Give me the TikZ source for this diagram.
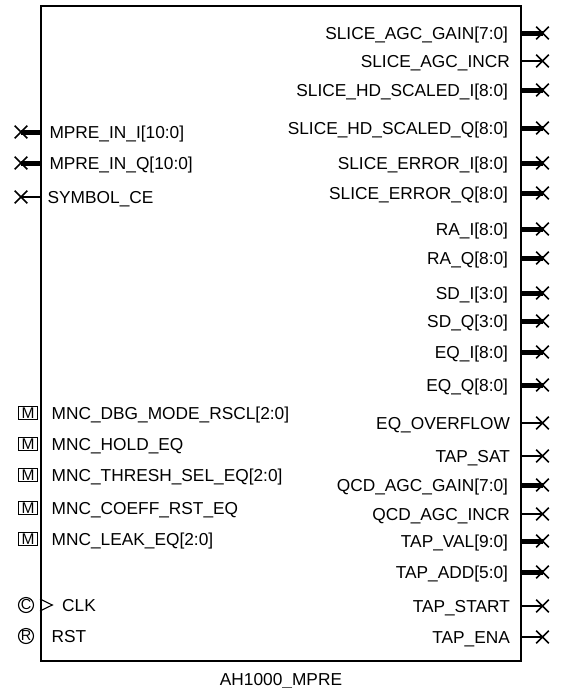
\documentclass[tikz,border=0pt]{standalone}
\usepackage{fontspec}
\setmainfont{Liberation Sans}
\usetikzlibrary{shapes.misc, positioning}

\begin{document}
\begin{tikzpicture}[x=1pt, y=-1pt,
    block/.style={draw, line width=2pt, minimum width=480pt, minimum height=655pt, inner sep=0pt},
    pin/.style={line width=1.3pt},
    bus/.style={line width=5pt},
    xmark/.style={draw, cross out, line width=1.6pt, minimum size=11pt, inner sep=0pt},
    lab/.style={inner sep=0pt, text height=12pt, text depth=0pt, font=\fontsize{17.3}{20}\selectfont},
    rlab/.style={lab, anchor=east, xshift=-11.5pt},
    llab/.style={lab, anchor=west, xshift=7pt},
    mbox/.style={draw, line width=1.1pt, minimum width=19pt, minimum height=13.5pt, inner sep=0pt, font=\fontsize{15.5}{16}\selectfont},
    ring/.style={draw, circle, line width=1.1pt, minimum size=15pt, inner sep=0pt, font=\fontsize{14.5}{15}\selectfont}]

    \useasboundingbox (0,0) rectangle (560,688);

    % --- Block body and its name ---
    \node[block] (blk) at (281,333.5) {};
    \node[lab, below=11pt of blk] (blkname) {AH1000\_MPRE};

    % --- Inputs (left) ---
    \draw[bus] (blk.west |- 0,132) node[llab] (mprei) {MPRE\_IN\_I[10:0]} -- ++(-19,0) node[xmark] (mpreix) {};
    \draw[bus] (blk.west |- 0,163) node[llab] (mpreq) {MPRE\_IN\_Q[10:0]} -- ++(-19,0) node[xmark] (mpreqx) {};
    \draw[pin] (blk.west |- 0,197) node[llab] (symce) {SYMBOL\_CE} -- ++(-19,0) node[xmark] (symcex) {};

    % --- Monitor / control registers (M boxes) ---
    \node[mbox] (mdbg) at (28,413) {M};    \node[lab, anchor=west] (dbg) at (51.5,413) {MNC\_DBG\_MODE\_RSCL[2:0]};
    \node[mbox] (mhold) at (28,444) {M};   \node[lab, anchor=west] (hold) at (51.5,444) {MNC\_HOLD\_EQ};
    \node[mbox] (mthr) at (28,475) {M};    \node[lab, anchor=west] (thr) at (51.5,475) {MNC\_THRESH\_SEL\_EQ[2:0]};
    \node[mbox] (mcoef) at (28,508) {M};   \node[lab, anchor=west] (coef) at (51.5,508) {MNC\_COEFF\_RST\_EQ};
    \node[mbox] (mleak) at (28,539) {M};   \node[lab, anchor=west] (leak) at (51.5,539) {MNC\_LEAK\_EQ[2:0]};

    % --- Clock and reset ---
    \node[ring] (cclk) at (26,605) {C};
    \draw[line width=1.1pt] (blk.west |- 0,599) -- (52.3,605) -- (blk.west |- 0,611);
    \node[lab, anchor=west] (clk) at (62,605) {CLK};
    \node[ring] (rrst) at (26,636) {R};
    \node[lab, anchor=west] (rst) at (51.5,636) {RST};

    % --- Outputs (right) ---
    \draw[bus] (blk.east |- 0,33)  node[rlab] (agcgain) {SLICE\_AGC\_GAIN[7:0]} -- ++(20.5,0) node[xmark] (agcgainx) {};
    \draw[pin] (blk.east |- 0,61)  node[rlab] (agcincr) {SLICE\_AGC\_INCR} -- ++(20.5,0) node[xmark] (agcincrx) {};
    \draw[bus] (blk.east |- 0,90)  node[rlab] (hdi) {SLICE\_HD\_SCALED\_I[8:0]} -- ++(20.5,0) node[xmark] (hdix) {};
    \draw[bus] (blk.east |- 0,128) node[rlab] (hdq) {SLICE\_HD\_SCALED\_Q[8:0]} -- ++(20.5,0) node[xmark] (hdqx) {};
    \draw[bus] (blk.east |- 0,163) node[rlab] (erri) {SLICE\_ERROR\_I[8:0]} -- ++(20.5,0) node[xmark] (errix) {};
    \draw[bus] (blk.east |- 0,193) node[rlab] (errq) {SLICE\_ERROR\_Q[8:0]} -- ++(20.5,0) node[xmark] (errqx) {};
    \draw[bus] (blk.east |- 0,229) node[rlab] (rai) {RA\_I[8:0]} -- ++(20.5,0) node[xmark] (raix) {};
    \draw[bus] (blk.east |- 0,258) node[rlab] (raq) {RA\_Q[8:0]} -- ++(20.5,0) node[xmark] (raqx) {};
    \draw[bus] (blk.east |- 0,293) node[rlab] (sdi) {SD\_I[3:0]} -- ++(20.5,0) node[xmark] (sdix) {};
    \draw[bus] (blk.east |- 0,321) node[rlab] (sdq) {SD\_Q[3:0]} -- ++(20.5,0) node[xmark] (sdqx) {};
    \draw[bus] (blk.east |- 0,352) node[rlab] (eqi) {EQ\_I[8:0]} -- ++(20.5,0) node[xmark] (eqix) {};
    \draw[bus] (blk.east |- 0,385) node[rlab] (eqq) {EQ\_Q[8:0]} -- ++(20.5,0) node[xmark] (eqqx) {};
    \draw[pin] (blk.east |- 0,423) node[rlab] (eqovf) {EQ\_OVERFLOW} -- ++(20.5,0) node[xmark] (eqovfx) {};
    \draw[pin] (blk.east |- 0,456) node[rlab] (tapsat) {TAP\_SAT} -- ++(20.5,0) node[xmark] (tapsatx) {};
    \draw[bus] (blk.east |- 0,485) node[rlab] (qcdgain) {QCD\_AGC\_GAIN[7:0]} -- ++(20.5,0) node[xmark] (qcdgainx) {};
    \draw[pin] (blk.east |- 0,514) node[rlab] (qcdincr) {QCD\_AGC\_INCR} -- ++(20.5,0) node[xmark] (qcdincrx) {};
    \draw[bus] (blk.east |- 0,541) node[rlab] (tapval) {TAP\_VAL[9:0]} -- ++(20.5,0) node[xmark] (tapvalx) {};
    \draw[bus] (blk.east |- 0,572) node[rlab] (tapadd) {TAP\_ADD[5:0]} -- ++(20.5,0) node[xmark] (tapaddx) {};
    \draw[pin] (blk.east |- 0,606) node[rlab] (tapstart) {TAP\_START} -- ++(20.5,0) node[xmark] (tapstartx) {};
    \draw[pin] (blk.east |- 0,637) node[rlab] (tapena) {TAP\_ENA} -- ++(20.5,0) node[xmark] (tapenax) {};

\end{tikzpicture}
\end{document}
